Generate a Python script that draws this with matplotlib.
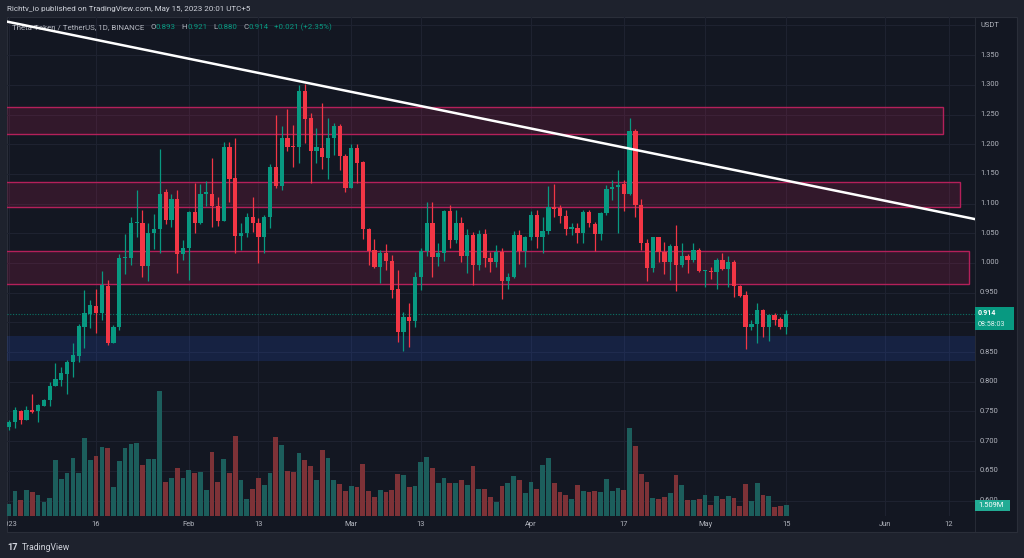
import numpy as np
import pandas as pd
import matplotlib
matplotlib.use("Agg")
import matplotlib.pyplot as plt
from matplotlib.patches import Rectangle

# ---------------------------------------------
# data: THETA / USDT daily candles, 2023-01-01 .. 2023-05-15
# ---------------------------------------------
dates = pd.date_range("2023-01-01", "2023-05-15", freq="D")

opens = [
    0.723, 0.733, 0.751, 0.736, 0.752, 0.751, 0.760, 0.769, 0.793, 0.803,
    0.813, 0.833, 0.844, 0.893, 0.914, 0.928, 0.915, 0.961, 0.866, 0.893,
    1.008, 1.009, 1.068, 1.067, 0.995, 1.050, 1.058, 1.119, 1.072, 1.108,
    1.015, 1.026, 1.086, 1.068, 1.117, 1.117, 1.096, 1.071, 1.196, 1.143,
    1.045, 1.050, 1.078, 1.067, 1.043, 1.078, 1.161, 1.130, 1.210, 1.197,
    1.195, 1.289, 1.244, 1.189, 1.194, 1.177, 1.210, 1.230, 1.181, 1.127,
    1.194, 1.170, 1.057, 1.022, 0.994, 1.017, 1.003, 0.956, 0.884, 0.909,
    0.902, 0.977, 1.020, 1.068, 1.010, 1.017, 1.088, 1.038, 1.068, 1.011,
    1.047, 0.997, 1.049, 1.009, 1.002, 1.019, 0.970, 0.976, 1.047, 1.020,
    1.043, 1.081, 1.043, 1.054, 1.094, 1.092, 1.079, 1.058, 1.059, 1.050,
    1.086, 1.066, 1.048, 1.084, 1.125, 1.128, 1.133, 1.116, 1.222, 1.097,
    1.034, 0.992, 1.043, 1.019, 1.001, 1.029, 0.997, 1.011, 1.005, 1.022,
    0.987, 0.987, 0.984, 1.005, 0.990, 1.001, 0.961, 0.946, 0.893, 0.897,
    0.921, 0.892, 0.912, 0.905, 0.893,
]
highs = [
    0.735, 0.757, 0.753, 0.759, 0.780, 0.763, 0.771, 0.799, 0.831, 0.824,
    0.836, 0.866, 0.897, 0.954, 0.938, 0.956, 0.987, 0.971, 0.895, 1.015,
    1.049, 1.077, 1.123, 1.089, 1.067, 1.082, 1.192, 1.124, 1.117, 1.123,
    1.039, 1.088, 1.134, 1.133, 1.138, 1.176, 1.111, 1.203, 1.204, 1.210,
    1.068, 1.085, 1.111, 1.075, 1.081, 1.166, 1.249, 1.230, 1.260, 1.232,
    1.300, 1.301, 1.252, 1.227, 1.269, 1.245, 1.236, 1.234, 1.184, 1.201,
    1.200, 1.172, 1.059, 1.040, 1.022, 1.032, 1.013, 0.988, 0.918, 0.932,
    0.984, 1.026, 1.103, 1.103, 1.033, 1.089, 1.098, 1.090, 1.078, 1.057,
    1.053, 1.056, 1.057, 1.019, 1.030, 1.026, 0.983, 1.054, 1.056, 1.046,
    1.088, 1.089, 1.078, 1.130, 1.133, 1.098, 1.090, 1.068, 1.068, 1.089,
    1.090, 1.069, 1.086, 1.131, 1.140, 1.157, 1.139, 1.244, 1.226, 1.107,
    1.041, 1.044, 1.043, 1.036, 1.032, 1.064, 1.033, 1.015, 1.033, 1.025,
    0.989, 0.993, 1.008, 1.016, 1.011, 1.005, 0.963, 0.952, 0.904, 0.933,
    0.922, 0.914, 0.915, 0.909, 0.921,
]
lows = [
    0.719, 0.722, 0.729, 0.735, 0.747, 0.732, 0.759, 0.760, 0.792, 0.792,
    0.780, 0.808, 0.834, 0.857, 0.890, 0.882, 0.904, 0.862, 0.865, 0.887,
    0.981, 0.996, 1.044, 0.977, 0.970, 1.024, 1.017, 1.065, 1.061, 0.983,
    1.005, 0.971, 1.051, 1.066, 1.096, 1.061, 1.063, 1.070, 1.103, 1.016,
    1.022, 1.044, 1.053, 1.000, 1.017, 1.059, 1.126, 1.123, 1.188, 1.161,
    1.169, 1.202, 1.134, 1.169, 1.159, 1.141, 1.182, 1.157, 1.120, 1.126,
    1.134, 1.040, 0.997, 0.991, 0.966, 0.989, 0.941, 0.867, 0.851, 0.859,
    0.893, 0.955, 1.011, 0.977, 0.995, 1.004, 1.026, 1.033, 1.002, 0.983,
    0.963, 0.989, 0.994, 0.985, 0.994, 0.940, 0.957, 0.974, 0.999, 0.994,
    1.039, 1.025, 1.016, 1.049, 1.078, 1.068, 1.047, 1.047, 1.033, 1.033,
    1.060, 1.021, 1.038, 1.080, 1.106, 1.051, 1.088, 1.114, 1.078, 1.022,
    0.970, 0.985, 1.002, 0.981, 0.972, 0.952, 0.994, 0.983, 1.001, 0.985,
    0.960, 0.973, 0.956, 0.988, 0.960, 0.942, 0.942, 0.855, 0.887, 0.866,
    0.875, 0.868, 0.895, 0.888, 0.880,
]
closes = [
    0.733, 0.752, 0.736, 0.752, 0.749, 0.761, 0.769, 0.793, 0.804, 0.814,
    0.834, 0.845, 0.894, 0.915, 0.929, 0.915, 0.963, 0.866, 0.893, 1.008,
    1.009, 1.068, 1.069, 0.995, 1.050, 1.058, 1.117, 1.072, 1.108, 1.015,
    1.026, 1.086, 1.068, 1.117, 1.118, 1.096, 1.071, 1.196, 1.141, 1.046,
    1.050, 1.077, 1.067, 1.044, 1.078, 1.161, 1.129, 1.210, 1.196, 1.195,
    1.289, 1.243, 1.189, 1.196, 1.178, 1.210, 1.230, 1.181, 1.127, 1.194,
    1.169, 1.057, 1.020, 0.994, 1.017, 1.003, 0.955, 0.883, 0.909, 0.902,
    0.977, 1.020, 1.068, 1.010, 1.017, 1.088, 1.038, 1.068, 1.011, 1.047,
    0.997, 1.049, 1.009, 1.002, 1.019, 0.970, 0.976, 1.047, 1.020, 1.043,
    1.081, 1.043, 1.054, 1.094, 1.091, 1.079, 1.058, 1.059, 1.051, 1.086,
    1.067, 1.048, 1.084, 1.125, 1.128, 1.132, 1.116, 1.222, 1.098, 1.033,
    0.992, 1.043, 1.019, 1.001, 1.029, 0.997, 1.011, 1.005, 1.022, 0.987,
    0.988, 0.984, 1.005, 0.990, 1.002, 0.961, 0.945, 0.893, 0.898, 0.921,
    0.892, 0.912, 0.904, 0.893, 0.914,
]
# volume in millions
volumes = [
    1.55, 3.29, 2.13, 3.42, 3.20, 2.75, 1.82, 2.40, 7.41, 4.97,
    5.68, 7.77, 5.77, 10.39, 7.41, 7.95, 9.15, 9.06, 3.82, 7.28,
    9.01, 9.55, 9.68, 6.79, 7.55, 7.55, 16.65, 4.48, 5.02, 6.35,
    5.02, 6.08, 5.73, 5.82, 3.46, 8.48, 4.53, 7.55, 5.77, 10.61,
    4.84, 2.22, 3.55, 5.11, 4.17, 5.68, 10.48, 9.50, 5.99, 5.82,
    8.44, 7.50, 6.62, 4.75, 8.84, 7.68, 4.84, 4.26, 3.37, 3.95,
    3.91, 6.88, 3.29, 2.58, 3.42, 3.20, 3.46, 5.55, 5.42, 3.82,
    3.95, 7.15, 7.81, 6.35, 4.35, 5.02, 4.35, 4.35, 4.84, 4.17,
    6.62, 3.64, 3.55, 2.49, 1.86, 3.95, 4.35, 5.28, 4.75, 3.11,
    4.57, 3.64, 6.75, 7.77, 4.44, 3.20, 2.84, 2.31, 4.17, 3.29,
    3.20, 3.37, 3.20, 4.93, 3.37, 3.69, 3.46, 11.72, 9.28, 5.59,
    4.48, 2.40, 2.31, 2.49, 3.11, 5.51, 4.17, 2.13, 2.13, 2.22,
    2.75, 1.51, 2.66, 2.31, 2.66, 2.40, 1.33, 4.26, 2.04, 4.35,
    2.84, 2.66, 1.24, 1.33, 1.509,
]

# drawn zones (price levels) and their right end in days since Jan 1
zone_low = [1.2173, 1.0938, 0.9641, 0.8354]
zone_high = [1.2619, 1.1359, 1.0202, 0.8775]
zone_end = [161.0, 163.9, 165.5, 170.0]
zone_kind = ["supply", "supply", "supply", "demand"]

# descending trend line, two anchor points (days since Jan 1, price)
trend_x = [-1.6, 166.5]
trend_y = [1.409, 1.074]

# axis ticks
tick_days = [0, 15, 31, 43, 59, 71, 90, 106, 120, 134, 151, 162]
tick_names = ["2023", "16", "Feb", "13", "Mar", "13", "Apr", "17", "May", "15", "Jun", "12"]
price_ticks = [0.60, 0.65, 0.70, 0.75, 0.80, 0.85, 0.90, 0.95, 1.00,
               1.05, 1.10, 1.15, 1.20, 1.25, 1.30, 1.35]

# ---------------------------------------------
# style
# ---------------------------------------------
W, H = 1024, 558
BG = "#131722"
FRAME = "#1e222d"
GRID = "#1e2230"
TXT = "#b2b5be"
UP = "#089981"
DOWN = "#f23645"
VOL_UP = "#1c5e5c"
VOL_DOWN = "#7d3237"
FONT = ["Roboto", "DejaVu Sans"]
FS = 5.4

plt.rcParams["font.family"] = FONT


def rect(x0, y0, x1, y1):
    # pixel box (top-left origin) -> figure fraction
    return [x0 / W, 1 - y1 / H, (x1 - x0) / W, (y1 - y0) / H]


def fpt(x, y):
    return x / W, 1 - y / H


fig = plt.figure(figsize=(W / 100, H / 100), dpi=100, facecolor=FRAME)
renderer = fig.canvas.get_renderer()

# chart pane background
fig.add_artist(Rectangle(fpt(7, 532), 1010 / W, 515 / H, transform=fig.transFigure,
                         facecolor=BG, edgecolor="#2a2e39", lw=0.8, zorder=-5))

x = np.arange(len(dates))
o = np.array(opens)
h = np.array(highs)
l = np.array(lows)
c = np.array(closes)
v = np.array(volumes)
up = c >= o

XLIM = (-0.36, 166.55)
YLIM = (0.5739, 1.4143)

# volume layer (under the price layer)
ax_v = fig.add_axes(rect(7, 17, 975, 516), zorder=1)
ax_v.set_facecolor("none")
ax_v.set_xlim(*XLIM)
ax_v.set_ylim(0, v.max() * 499 / 125)
ax_v.axis("off")

ax = fig.add_axes(rect(7, 17, 975, 516), zorder=2)
ax.set_facecolor("none")
ax.set_xlim(*XLIM)
ax.set_ylim(*YLIM)
for s in ax.spines.values():
    s.set_visible(False)
ax.set_xticks([])
ax.set_yticks([])

# grid (drawn on the lower layer so bars cover it)
for d in tick_days:
    ax_v.axvline(d, color=GRID, lw=0.8, zorder=0)
for p in price_ticks + [1.40]:
    ax_v.plot([XLIM[0], XLIM[1]], [p, p], transform=ax.transData, color=GRID, lw=0.8, zorder=0)

ax_v.bar(x, v, width=0.82, color=np.where(up, VOL_UP, VOL_DOWN), zorder=2)

# zones
for lo, hi, end, kind in zip(zone_low, zone_high, zone_end, zone_kind):
    if kind == "supply":
        ax.add_patch(Rectangle((-3, lo), end + 3, hi - lo, facecolor="#e91e63", alpha=0.15,
                               edgecolor="none", zorder=1))
        ax.add_patch(Rectangle((-3, lo), end + 3, hi - lo, facecolor="none",
                               edgecolor="#b4205a", lw=1.0, zorder=1.1))
    else:
        ax.add_patch(Rectangle((-3, lo), end + 3, hi - lo, facecolor="#2962ff", alpha=0.15,
                               edgecolor="none", zorder=1))

# current price dotted line
ax.axhline(c[-1], color=UP, lw=0.8, ls=(0, (1, 1.5)), alpha=0.7, zorder=1.5)

# candles
cols = np.where(up, UP, DOWN)
ax.vlines(x, l, h, colors=cols, lw=0.9, zorder=3)
body = np.maximum(np.abs(c - o), 0.0018)
ax.bar(x, body, bottom=np.minimum(o, c), width=0.74, color=cols, zorder=3.1)

# trend line
ax.axline((trend_x[0], trend_y[0]), (trend_x[1], trend_y[1]), color="white", lw=1.8, zorder=6)

# legend line (under the trend line), laid out piece by piece
chg = c[-1] - c[-2]
legend_parts = [
    ("Theta Token / TetherUS, 1D, BINANCE", TXT, 6),
    ("O", TXT, 0), (f"{o[-1]:.3f}", UP, 6),
    ("H", TXT, 0), (f"{h[-1]:.3f}", UP, 6),
    ("L", TXT, 0), (f"{l[-1]:.3f}", UP, 6),
    ("C", TXT, 0), (f"{c[-1]:.3f}", UP, 6),
    (f"+{chg:.3f} (+{chg / c[-2] * 100:.2f}%)", UP, 0),
]
cur = 12
for txt, col, gap in legend_parts:
    t = ax.text(cur / W, 1 - 27 / H, txt, transform=fig.transFigure,
                fontsize=FS + 0.3, color=col, va="center", ha="left", zorder=4)
    cur += t.get_window_extent(renderer).width + gap

# price axis labels (the one under the last-price tag is hidden there)
ytr = ax.get_yaxis_transform()
for p in price_ticks:
    if abs(p - c[-1]) < 0.02:
        continue
    ax.text(1.0052, p, f"{p:.3f}", transform=ytr, fontsize=FS, color=TXT,
            va="center", ha="left", clip_on=False)
ax.text(1.0052, 1.40, "USDT", transform=ytr, fontsize=FS, color=TXT,
        va="center", ha="left", clip_on=False)

# separators
fig.add_artist(plt.Line2D([975 / W, 975 / W], [1 - 532 / H, 1 - 17 / H],
                          transform=fig.transFigure, color="#2a2e39", lw=0.6, zorder=-4))

# date labels (clipped at the pane edge)
ax_d = fig.add_axes(rect(7, 516, 975, 532), zorder=2)
ax_d.set_facecolor("none")
ax_d.set_xlim(*XLIM)
ax_d.set_ylim(0, 1)
ax_d.axis("off")
for d, name in zip(tick_days, tick_names):
    ax_d.text(d, 0.45, name, fontsize=FS, color=TXT, ha="center", va="center", clip_on=True)

# last price tag
fig.add_artist(Rectangle(fpt(975, 330), 39 / W, 23 / H, transform=fig.transFigure,
                         facecolor=UP, edgecolor="none", zorder=5))
fig.text(*fpt(978, 313), f"{c[-1]:.3f}", fontsize=FS - 0.3, color="white", fontweight="bold",
         va="center", ha="left", zorder=6)
fig.text(*fpt(978, 324.5), "08:58:03", fontsize=FS - 0.3, color="#e0f2ef",
         va="center", ha="left", zorder=6)

# volume tag
fig.add_artist(Rectangle(fpt(975, 511), 35 / W, 11 / H, transform=fig.transFigure,
                         facecolor="#22ab94", edgecolor="none", zorder=5))
fig.text(*fpt(978, 505.5), f"{v[-1]:.3f}M", fontsize=FS, color="white",
         va="center", ha="left", zorder=6)

# header + footer
fig.text(*fpt(7, 9), "Richtv_io published on TradingView.com, May 15, 2023 20:01 UTC+5",
         fontsize=FS + 0.4, color="#d1d4dc", va="center", ha="left")
fig.text(*fpt(7, 548), "17", fontsize=FS + 1.2, color="#d1d4dc", fontweight="bold",
         va="center", ha="left")
fig.text(*fpt(22, 548), "TradingView", fontsize=FS + 0.8, color="#d1d4dc",
         va="center", ha="left")

fig.savefig("out.png", dpi=100, facecolor=FRAME)
